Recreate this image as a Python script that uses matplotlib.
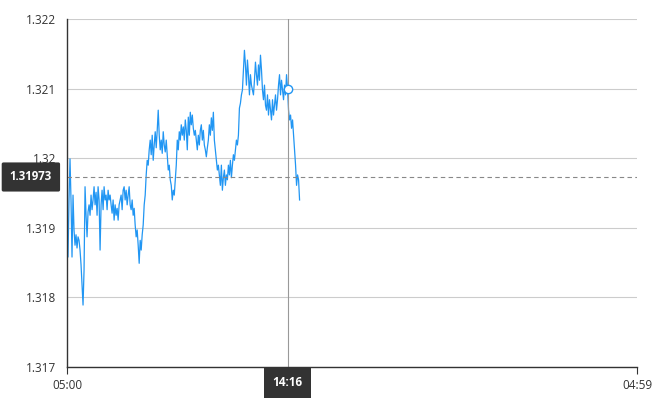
import matplotlib
matplotlib.use("Agg")
import matplotlib.pyplot as plt
import numpy as np

plt.rcParams['font.family'] = ['Open Sans', 'DejaVu Sans']

# price ticks from 05:00, one every ~2.53 minutes
step_min = 2.53
prices = [
    1.31918, 1.31858, 1.31940, 1.31999, 1.31940, 1.31858, 1.31947, 1.31897, 1.31875, 1.31890,
    1.31871, 1.31887, 1.31882, 1.31868, 1.31847, 1.31818, 1.31789, 1.31839, 1.31959, 1.31918,
    1.31887, 1.31923, 1.31933, 1.31918, 1.31947, 1.31926, 1.31940, 1.31959, 1.31933, 1.31951,
    1.31918, 1.31959, 1.31940, 1.31868, 1.31933, 1.31954, 1.31926, 1.31959, 1.31940, 1.31947,
    1.31926, 1.31954, 1.31940, 1.31947, 1.31933, 1.31921, 1.31940, 1.31911, 1.31933, 1.31918,
    1.31928, 1.31911, 1.31933, 1.31940, 1.31947, 1.31926, 1.31954, 1.31959, 1.31940, 1.31954,
    1.31933, 1.31947, 1.31959, 1.31933, 1.31926, 1.31940, 1.31918, 1.31928, 1.31904, 1.31887,
    1.31897, 1.31875, 1.31849, 1.31882, 1.31868, 1.31890, 1.31904, 1.31933, 1.31947, 1.31976,
    1.31997, 1.31990, 1.32012, 1.32026, 1.32005, 1.32033, 1.31997, 1.32019, 1.32038, 1.32015,
    1.32040, 1.32069, 1.32033, 1.32012, 1.32026, 1.32007, 1.32038, 1.32019, 1.32009, 1.32026,
    1.32005, 1.31983, 1.31990, 1.31969, 1.31961, 1.31940, 1.31954, 1.31947, 1.31969, 1.31990,
    1.32026, 1.32012, 1.32038, 1.32026, 1.32048, 1.32033, 1.32045, 1.32026, 1.32055, 1.32040,
    1.32012, 1.32059, 1.32033, 1.32066, 1.32048, 1.32062, 1.32043, 1.32033, 1.32040, 1.32026,
    1.32012, 1.32033, 1.32019, 1.32040, 1.32048, 1.32026, 1.32040, 1.32019, 1.32012, 1.32002,
    1.32015, 1.32026, 1.32048, 1.32033, 1.32058, 1.32040, 1.32066, 1.32026, 1.32012, 1.31997,
    1.31983, 1.31990, 1.31976, 1.31961, 1.31990, 1.31954, 1.31972, 1.31983, 1.31961, 1.31976,
    1.31969, 1.31990, 1.31976, 1.31997, 1.31972, 1.31990, 1.32005, 1.31997, 1.32012, 1.32026,
    1.32019, 1.32033, 1.32072, 1.32079, 1.32091, 1.32098, 1.32127, 1.32155, 1.32134, 1.32105,
    1.32141, 1.32120, 1.32091, 1.32120, 1.32105, 1.32098, 1.32091, 1.32112, 1.32138, 1.32120,
    1.32105, 1.32134, 1.32112, 1.32148, 1.32127, 1.32098, 1.32084, 1.32105, 1.32076, 1.32069,
    1.32091, 1.32062, 1.32084, 1.32069, 1.32055, 1.32084, 1.32062, 1.32076, 1.32091, 1.32069,
    1.32084, 1.32105, 1.32120, 1.32091, 1.32112, 1.32098, 1.32084, 1.32105, 1.32091, 1.32120,
    1.32100, 1.32069, 1.32055, 1.32062, 1.32043, 1.32055, 1.32033, 1.32012, 1.31990, 1.31961,
    1.31976, 1.31969, 1.31940,
]
y_ticks = [1.317, 1.318, 1.319, 1.32, 1.321, 1.322]
y_labels = ['1.317', '1.318', '1.319', '1.32', '1.321', '1.322']
x_tick_labels = ['05:00', '04:59']
cursor_index = 220
cursor_time_label = '14:16'
cursor_price = 1.31973

minutes = np.arange(len(prices)) * step_min

fig = plt.figure(figsize=(6.7, 4), dpi=100)
ax = fig.add_axes([0.1, 0.0825, 0.851, 0.87])

ax.plot(minutes, prices, color='#2196f3', lw=0.9)
ax.set_xlim(0, 1439)
ax.set_ylim(1.317, 1.322)

ax.set_yticks(y_ticks)
ax.set_yticklabels(y_labels)
ax.set_xticks([0, 1439])
ax.set_xticklabels(x_tick_labels)
ax.tick_params(axis='y', length=0, pad=8, labelsize=8.5, labelcolor='#333333')
ax.tick_params(axis='x', length=5, color='#333333', labelsize=8.5, labelcolor='#333333')
ax.grid(axis='y', color='#cccccc', lw=0.8)
for s in ['top', 'right']:
    ax.spines[s].set_visible(False)
for s in ['left', 'bottom']:
    ax.spines[s].set_color('#333333')
    ax.spines[s].set_linewidth(1)

# crosshair
cx = minutes[cursor_index]
ax.axvline(cx, color='#999999', lw=0.8)
ax.axhline(cursor_price, color='#888888', lw=0.8, ls=(0, (4, 3)))
ax.plot([cx], [prices[cursor_index]], 'o', ms=6, mfc='white', mec='#2196f3', mew=1)

ax.annotate('1.31973', xy=(0, cursor_price), xycoords=('axes fraction', 'data'),
            xytext=(-26, 0), textcoords='offset points', ha='center', va='center',
            color='white', fontsize=8.3, fontweight='bold',
            bbox=dict(boxstyle='round,pad=0.7,rounding_size=0.15', fc='#333333', ec='none'))
ax.annotate(cursor_time_label, xy=(cx, 0), xycoords=('data', 'axes fraction'),
            xytext=(0, -11.5), textcoords='offset points', ha='center', va='center',
            color='white', fontsize=8.5, fontweight='bold',
            bbox=dict(boxstyle='square,pad=0.75', fc='#333333', ec='none'))

fig.savefig('out.png')
